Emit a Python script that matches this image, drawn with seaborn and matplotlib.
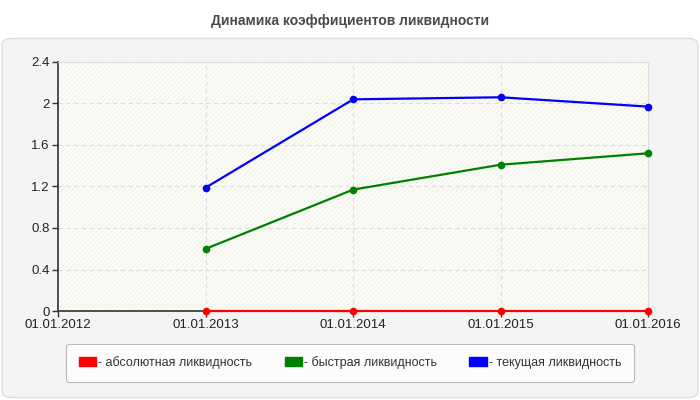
import matplotlib as mpl
import matplotlib.pyplot as plt
import matplotlib.dates as mdates
import pandas as pd
import seaborn as sns
from matplotlib.patches import FancyBboxPatch, Rectangle, Patch

mpl.use('Agg')

# Data
DATES = ["2013-01-01", "2014-01-01", "2015-01-01", "2016-01-01"]
ABSOLUTE = [0.0, 0.0, 0.0, 0.0]
QUICK = [0.60, 1.17, 1.41, 1.52]
CURRENT = [1.19, 2.04, 2.06, 1.97]
SERIES = ["- абсолютная ликвидность", "- быстрая ликвидность", "- текущая ликвидность"]
COLORS = ["#ff0000", "#008000", "#0000ff"]
X_TICKS = ["2012-01-01", "2013-01-01", "2014-01-01", "2015-01-01", "2016-01-01"]
Y_TICKS = [0, 0.4, 0.8, 1.2, 1.6, 2, 2.4]
Y_LABELS = ["0", "0.4", "0.8", "1.2", "1.6", "2", "2.4"]
TITLE = "Динамика коэффициентов ликвидности"

sns.set_style("white")
plt.rcParams['font.family'] = ['Liberation Sans', 'DejaVu Sans']


def main():
    df = pd.DataFrame({"date": pd.to_datetime(DATES),
                       SERIES[0]: ABSOLUTE, SERIES[1]: QUICK, SERIES[2]: CURRENT})
    long = df.melt(id_vars="date", var_name="series", value_name="value")

    fig = plt.figure(figsize=(7, 4), dpi=100)
    fig.patch.set_facecolor("white")
    # Grey rounded panel behind the chart
    panel = FancyBboxPatch((0.003, 0.006), 0.994, 0.898, transform=fig.transFigure,
                           boxstyle="round,pad=0,rounding_size=0.015",
                           facecolor="#f4f4f4", edgecolor="#dddddd", lw=1, zorder=-5)
    fig.patches.append(panel)
    fig.text(0.5, 0.948, TITLE, ha="center", va="center", fontsize=10,
             fontweight="bold", color="#4a4a4a")

    ax = fig.add_axes([58 / 700, 1 - 311 / 400, 590 / 700, 249 / 400])
    ax.set_zorder(1)
    ax.set_facecolor("#fdfdf8")
    ax.add_patch(Rectangle((0, 0), 1, 1, transform=ax.transAxes, fill=False,
                           hatch="///////", edgecolor="#f3f3ee", lw=0, zorder=0))

    sns.lineplot(data=long, x="date", y="value", hue="series", palette=COLORS,
                 marker="o", markersize=5.5, markeredgewidth=0, linewidth=1.6,
                 ax=ax, legend=False, zorder=3)

    x_ticks = pd.to_datetime(X_TICKS)
    ax.set_xlim(x_ticks[0], x_ticks[-1])
    ax.set_ylim(0, 2.4)
    ax.set_xticks(x_ticks)
    ax.xaxis.set_major_formatter(mdates.DateFormatter("%d.%m.%Y"))
    ax.set_yticks(Y_TICKS)
    ax.set_yticklabels(Y_LABELS)
    ax.set(xlabel="", ylabel="")
    ax.grid(True, color="#dddddd", linestyle=(0, (4, 3)), linewidth=0.8)
    ax.tick_params(axis="both", direction="out", length=4, width=1,
                   color="#333333", labelsize=9.5, labelcolor="#222222", pad=2,
                   bottom=True, left=True)
    for side in ["top", "right"]:
        ax.spines[side].set_color("#dddddd")
    for side in ["left", "bottom"]:
        ax.spines[side].set_color("#333333")
        ax.spines[side].set_linewidth(1.2)
    for line in ax.lines:
        line.set_clip_on(False)

    handles = [Patch(facecolor=c, edgecolor=c, label=s) for c, s in zip(COLORS, SERIES)]
    leg = fig.legend(handles=handles, loc="center", bbox_to_anchor=(0.5, 0.093),
                     ncol=3, frameon=True, fontsize=9, handlelength=1.4,
                     handleheight=0.75, handletextpad=0.15, columnspacing=2.6,
                     borderpad=1.0, fancybox=True)
    leg.get_frame().set_edgecolor("#aaaaaa")
    leg.get_frame().set_facecolor("white")
    leg.get_frame().set_linewidth(0.8)
    for t in leg.get_texts():
        t.set_color("#333333")

    fig.savefig("out.png", dpi=100)
    plt.close(fig)


if __name__ == '__main__':
    main()
